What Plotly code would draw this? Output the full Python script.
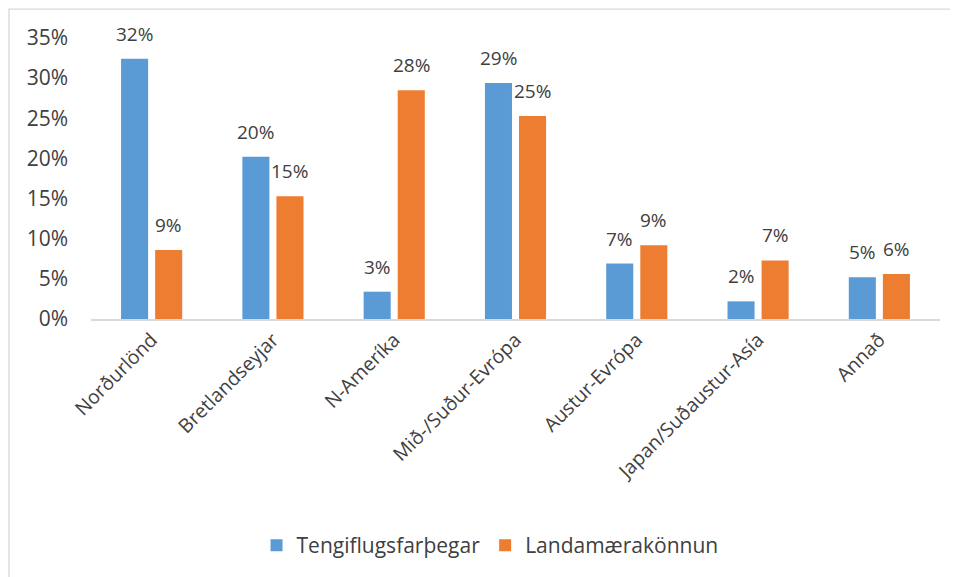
import plotly.graph_objects as go

categories = ["Norðurlönd", "Bretlandseyjar", "N-Ameríka", "Mið-/Suður-Evrópa",
              "Austur-Evrópa", "Japan/Suðaustur-Asía", "Annað"]
tengiflug = [0.324, 0.202, 0.034, 0.294, 0.069, 0.022, 0.052]
landamaera = [0.086, 0.153, 0.285, 0.253, 0.092, 0.073, 0.056]
series_names = ["Tengiflugsfarþegar", "Landamærakönnun"]
colors = ["#5B9BD5", "#ED7D31"]
ytick_vals = [0, 0.05, 0.10, 0.15, 0.20, 0.25, 0.30, 0.35]

FONT = "Open Sans"
TXT = "#404040"

fig = go.Figure()
for name, vals, col in zip(series_names, [tengiflug, landamaera], colors):
    fig.add_trace(go.Bar(x=categories, y=vals, name=name, marker_color=col,
                         marker_line_width=0))

# page has an 8px body margin; figure sized so the page fits the 958x577 window
W, H = 950, 569
L, R, T, B = 83, 18, 30, 257
plot_w = W - L - R
plot_h = H - T - B
cat_w = plot_w / len(categories)
bargap = 0.438
offset = (1 - bargap) / 4 * cat_w

annotations = []
for i, vals in enumerate([tengiflug, landamaera]):
    for c, v in zip(categories, vals):
        annotations.append(dict(x=c, y=v, xref="x", yref="y", text=f"{round(v*100)}%",
                                showarrow=False, yanchor="bottom",
                                xshift=(-offset if i == 0 else offset), yshift=10,
                                font=dict(family=FONT, size=19, color=TXT)))

fig.update_layout(
    width=W, height=H,
    margin=dict(l=L, r=R, t=T, b=B),
    paper_bgcolor="white", plot_bgcolor="white",
    barmode="group", bargap=bargap, bargroupgap=0.206,
    font=dict(family=FONT, color=TXT),
    showlegend=True,
    legend=dict(orientation="h", x=0.47, xanchor="center", y=-0.80, yanchor="middle",
                font=dict(family=FONT, size=21, color=TXT), itemwidth=30,
                traceorder="normal"),
    annotations=annotations,
    shapes=[dict(type="rect", xref="paper", yref="paper",
                 x0=(1 - L) / plot_w, x1=1.2, y0=-1.5, y1=1 + (T - 1) / plot_h,
                 line=dict(color="#D9D9D9", width=1.3), fillcolor="rgba(0,0,0,0)",
                 layer="below")],
)
fig.update_xaxes(showline=True, linecolor="#D9D9D9", linewidth=1.5, tickangle=-45,
                 ticks="", tickfont=dict(family=FONT, size=19.5, color=TXT))
fig.update_yaxes(range=[0, 0.35], tickvals=ytick_vals, tickformat=".0%",
                 showgrid=False, zeroline=False, showline=False, ticks="",
                 ticklabelstandoff=22,
                 tickfont=dict(family=FONT, size=21, color=TXT))

fig.write_html("out.html")
